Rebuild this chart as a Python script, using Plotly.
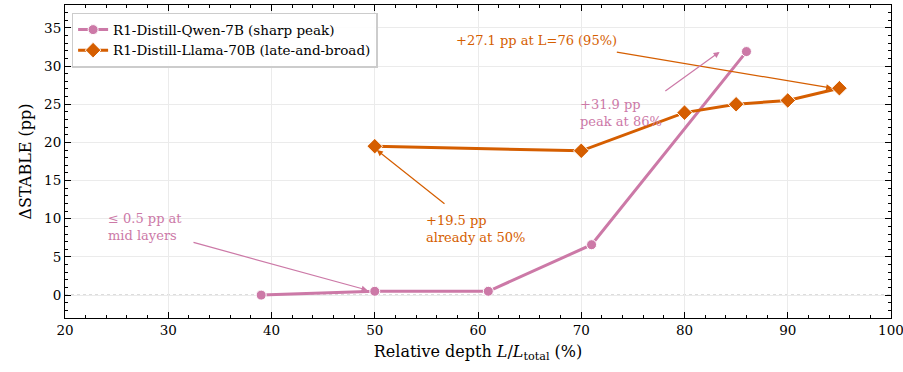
import plotly.graph_objects as go

qwen_x = [39, 50, 61, 71, 86]
qwen_y = [0.0, 0.5, 0.5, 6.6, 31.9]
llama_x = [50, 70, 80, 85, 90, 95]
llama_y = [19.5, 18.9, 23.9, 25.0, 25.5, 27.1]

x_ticks = [20, 30, 40, 50, 60, 70, 80, 90, 100]
y_ticks = [0, 5, 10, 15, 20, 25, 30, 35]

PINK = "#CC79A7"
ORANGE = "#D55E00"
FONT = "DejaVu Serif"

fig = go.Figure()
fig.add_trace(go.Scatter(
    x=qwen_x, y=qwen_y, mode="lines+markers",
    name="R1-Distill-Qwen-7B (sharp peak)",
    line=dict(color=PINK, width=3),
    marker=dict(symbol="circle", size=10, color=PINK, line=dict(color="white", width=1)),
))
fig.add_trace(go.Scatter(
    x=llama_x, y=llama_y, mode="lines+markers",
    name="R1-Distill-Llama-70B (late-and-broad)",
    line=dict(color=ORANGE, width=3),
    marker=dict(symbol="diamond", size=12, color=ORANGE, line=dict(color="white", width=1)),
))

fig.add_shape(type="line", xref="paper", x0=0, x1=1, yref="y", y0=0, y1=0,
              line=dict(color="#aaaaaa", width=1, dash="dot"), layer="below")

def arrow(x, y, ax, ay, color):
    fig.add_annotation(x=x, y=y, ax=ax, ay=ay, xref="x", yref="y", axref="x", ayref="y",
                       text="", showarrow=True, arrowhead=2, arrowsize=1, arrowwidth=1.2,
                       arrowcolor=color, standoff=0, startstandoff=0)

def label(x, y, text, color, xanchor="left"):
    fig.add_annotation(x=x, y=y, xref="x", yref="y", text=text, showarrow=False,
                       font=dict(family=FONT, size=13, color=color), align="left",
                       xanchor=xanchor, yanchor="middle")

arrow(94.3, 27.1, 73.3, 31.85, ORANGE)
label(65.7, 33.4, "+27.1 pp at L=76 (95%)", ORANGE, xanchor="center")
arrow(83.4, 31.85, 78.0, 26.6, PINK)
label(69.7, 23.8, "+31.9 pp<br>peak at 86%", PINK)
arrow(50.2, 19.0, 56.9, 11.8, ORANGE)
label(54.8, 8.6, "+19.5 pp<br>already at 50%", ORANGE)
arrow(49.3, 0.65, 32.3, 6.95, PINK)
label(24.0, 8.9, "\u2264 0.5 pp at<br>mid layers", PINK)

axis_common = dict(
    showline=True, linecolor="black", linewidth=1, mirror="allticks",
    ticks="inside", ticklen=6, tickwidth=1, tickcolor="black",
    showgrid=True, gridcolor="#ebebeb", gridwidth=1, zeroline=False,
    tickfont=dict(family=FONT, size=13.5, color="black"), automargin=False,
    ticklabeloverflow="allow",
)
fig.update_xaxes(range=[20, 100], tickvals=x_ticks,
                 minor=dict(ticks="inside", ticklen=3, dtick=2, tick0=20, tickcolor="black", showgrid=False),
                 title=dict(text="Relative depth <i>L</i>/<i>L</i><sub>total</sub> (%)",
                            font=dict(family=FONT, size=16, color="black"), standoff=8),
                 **axis_common)
fig.update_yaxes(range=[-3, 38], tickvals=y_ticks,
                 minor=dict(ticks="inside", ticklen=3, dtick=1, tick0=0, tickcolor="black", showgrid=False),
                 title=dict(text="\u0394STABLE (pp)", font=dict(family=FONT, size=16, color="black"), standoff=8),
                 **axis_common)

fig.update_layout(
    width=903, height=372,
    margin=dict(l=65, r=12, t=5, b=54),
    plot_bgcolor="white", paper_bgcolor="white",
    font=dict(family=FONT, color="black"),
    legend=dict(x=0.008, y=0.975, xanchor="left", yanchor="top",
                bgcolor="rgba(255,255,255,0.9)", bordercolor="#cccccc", borderwidth=1.5,
                font=dict(family=FONT, size=13.5, color="black"), tracegroupgap=0),
    showlegend=True,
)

fig.write_html("out.html", config={"displayModeBar": False},
               post_script="document.body.style.margin='0';document.body.style.padding='0';")
